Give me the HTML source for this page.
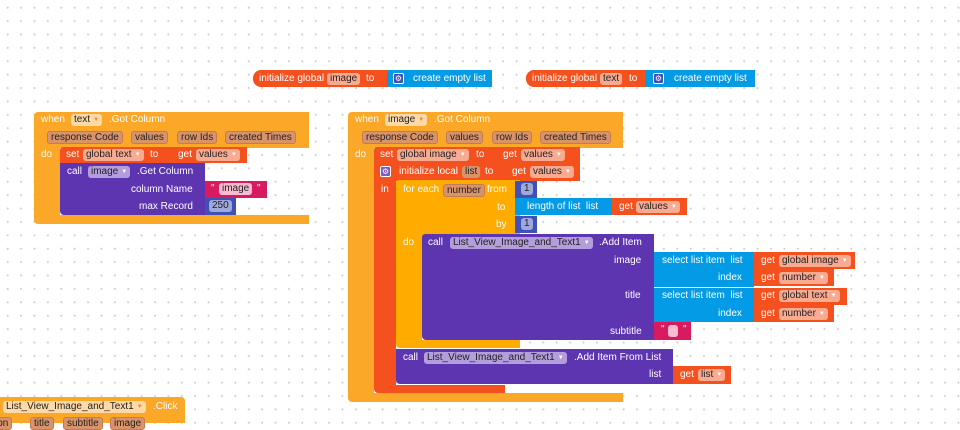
<!DOCTYPE html>
<html><head><meta charset="utf-8"><style>
body{margin:0;width:960px;height:423px;overflow:hidden;background:#fff;
background-image:radial-gradient(circle,#cfcfcf 0.9px,transparent 1.2px);background-size:13.4px 13.4px;background-position:1px 1px;
font-family:"Liberation Sans",sans-serif;font-size:10px;color:#fff;position:relative}
.b{position:absolute}
.t{position:absolute;white-space:nowrap;line-height:14px}
.c{position:absolute;white-space:nowrap;line-height:12px;height:12px;padding:0 3px;border-radius:3px;color:#222;font-size:10px}
.o{background:#fba829}.r{background:#f4511e}.p{background:#5e35b1}.bl{background:#039be5}.pk{background:#d81b60}.nb{background:#3f51b5}.y{background:#ffab00}
.co{background:#fcd9a6}.cp{background:#d9936b;border:1px solid #c47a55;height:11px;line-height:11px}
.cr{background:#f9ab92}.cl{background:#b39ddb}.cn{background:#9fa8da}
.ar{font-size:6px;color:#fff;margin-left:3px;vertical-align:1px}
.ic{position:absolute;width:11px;height:11px;border-radius:2px;background:#3f51b5;border:1px solid #fff;box-sizing:border-box;font-size:8px;line-height:9px;text-align:center}
</style></head><body>

<!-- top init blocks -->
<div class="b r" style="left:253px;top:70px;width:136px;height:17px;border-radius:8px 0 0 8px"></div>
<div class="t" style="left:259px;top:72px">initialize global</div>
<div class="c cr" style="left:327px;top:73px">image</div>
<div class="t" style="left:366px;top:72px">to</div>
<div class="b bl" style="left:387px;top:70px;width:105px;height:17px"></div>
<div class="ic" style="left:393px;top:73px">⚙</div>
<div class="t" style="left:413px;top:72px">create empty list</div>

<div class="b r" style="left:526px;top:70px;width:120px;height:17px;border-radius:8px 0 0 8px"></div>
<div class="t" style="left:532px;top:72px">initialize global</div>
<div class="c cr" style="left:600px;top:73px">text</div>
<div class="t" style="left:629px;top:72px">to</div>
<div class="b bl" style="left:645px;top:70px;width:110px;height:17px"></div>
<div class="ic" style="left:653px;top:73px">⚙</div>
<div class="t" style="left:674px;top:72px">create empty list</div>

<!-- left event -->
<div class="b o" style="left:34px;top:112px;width:275px;height:36px;border-radius:4px 0 0 0"></div>
<div class="b o" style="left:34px;top:147px;width:26px;height:70px"></div>
<div class="b o" style="left:34px;top:215px;width:275px;height:9px;border-radius:0 0 0 4px"></div>
<div class="t" style="left:41px;top:113px">when</div>
<div class="c co" style="left:71px;top:114px">text<span class="ar" style="color:#e08a3a">▼</span></div>
<div class="t" style="left:109px;top:113px">.Got Column</div>
<div class="c cp" style="left:47px;top:131px">response Code</div>
<div class="c cp" style="left:131px;top:131px">values</div>
<div class="c cp" style="left:177px;top:131px">row Ids</div>
<div class="c cp" style="left:225px;top:131px">created Times</div>
<div class="t" style="left:41px;top:148px">do</div>
<div class="b r" style="left:60px;top:147px;width:187px;height:16px;border-radius:3px 0 0 0"></div>
<div class="t" style="left:66px;top:148px">set</div>
<div class="c cr" style="left:83px;top:149px">global text<span class="ar">▼</span></div>
<div class="t" style="left:150px;top:148px">to</div>
<div class="t" style="left:178px;top:148px">get</div>
<div class="c cr" style="left:196px;top:149px">values<span class="ar">▼</span></div>
<div class="b p" style="left:60px;top:163px;width:145px;height:52px;border-radius:0 0 0 4px"></div>
<div class="t" style="left:67px;top:165px">call</div>
<div class="c cl" style="left:88px;top:166px">image<span class="ar">▼</span></div>
<div class="t" style="left:137px;top:165px">.Get Column</div>
<div class="t" style="left:131px;top:183px">column Name</div>
<div class="b pk" style="left:205px;top:181px;width:62px;height:17px"></div>
<div class="t" style="left:211px;top:182px">"</div>
<div class="c cl" style="left:219px;top:183px;background:#f8bbd0">image</div>
<div class="t" style="left:257px;top:182px">"</div>
<div class="t" style="left:139px;top:200px">max Record</div>
<div class="b nb" style="left:205px;top:198px;width:31px;height:17px"></div>
<div class="c cn" style="left:209px;top:200px">250</div>

<!-- right event -->
<div class="b o" style="left:348px;top:112px;width:275px;height:36px;border-radius:4px 0 0 0"></div>
<div class="b o" style="left:348px;top:147px;width:26px;height:250px"></div>
<div class="b o" style="left:348px;top:393px;width:275px;height:9px;border-radius:0 0 0 4px"></div>
<div class="t" style="left:355px;top:113px">when</div>
<div class="c co" style="left:385px;top:114px">image<span class="ar" style="color:#e08a3a">▼</span></div>
<div class="t" style="left:434px;top:113px">.Got Column</div>
<div class="c cp" style="left:362px;top:131px">response Code</div>
<div class="c cp" style="left:446px;top:131px">values</div>
<div class="c cp" style="left:492px;top:131px">row Ids</div>
<div class="c cp" style="left:540px;top:131px">created Times</div>
<div class="t" style="left:355px;top:148px">do</div>

<div class="b r" style="left:374px;top:147px;width:206px;height:16px;border-radius:3px 0 0 0"></div>
<div class="t" style="left:380px;top:148px">set</div>
<div class="c cr" style="left:397px;top:149px">global image<span class="ar">▼</span></div>
<div class="t" style="left:476px;top:148px">to</div>
<div class="t" style="left:503px;top:148px">get</div>
<div class="c cr" style="left:521px;top:149px">values<span class="ar">▼</span></div>

<div class="b r" style="left:374px;top:163px;width:206px;height:18px"></div>
<div class="b r" style="left:374px;top:180px;width:22px;height:208px"></div>
<div class="b r" style="left:374px;top:385px;width:131px;height:8px;border-radius:0 0 0 4px"></div>
<div class="ic" style="left:380px;top:166px;background:#7e57c2">⚙</div>
<div class="t" style="left:399px;top:165px">initialize local</div>
<div class="c cr" style="left:462px;top:166px;background:#d9936b">list</div>
<div class="t" style="left:485px;top:165px">to</div>
<div class="t" style="left:512px;top:165px">get</div>
<div class="c cr" style="left:530px;top:166px">values<span class="ar">▼</span></div>
<div class="t" style="left:381px;top:183px">in</div>

<div class="b y" style="left:396px;top:180px;width:124px;height:55px;border-radius:3px 0 0 0"></div>
<div class="b y" style="left:396px;top:234px;width:26px;height:110px"></div>
<div class="b y" style="left:396px;top:340px;width:124px;height:8px;border-radius:0 0 0 4px"></div>
<div class="t" style="left:403px;top:183px">for each</div>
<div class="c cp" style="left:443px;top:184px">number</div>
<div class="t" style="left:487px;top:183px">from</div>
<div class="b nb" style="left:515px;top:181px;width:22px;height:17px"></div>
<div class="c cn" style="left:521px;top:183px;padding:0 3px">1</div>
<div class="t" style="left:497px;top:201px">to</div>
<div class="b bl" style="left:515px;top:198px;width:97px;height:17px"></div>
<div class="t" style="left:527px;top:200px">length of list &nbsp;list</div>
<div class="b r" style="left:612px;top:198px;width:75px;height:17px"></div>
<div class="t" style="left:619px;top:200px">get</div>
<div class="c cr" style="left:636px;top:201px">values<span class="ar">▼</span></div>
<div class="t" style="left:496px;top:218px">by</div>
<div class="b nb" style="left:515px;top:216px;width:22px;height:17px"></div>
<div class="c cn" style="left:521px;top:218px;padding:0 3px">1</div>
<div class="t" style="left:403px;top:236px">do</div>

<div class="b p" style="left:422px;top:234px;width:232px;height:106px;border-radius:3px 0 0 4px"></div>
<div class="t" style="left:428px;top:236px">call</div>
<div class="c cl" style="left:450px;top:237px">List_View_Image_and_Text1<span class="ar">▼</span></div>
<div class="t" style="left:599px;top:236px">.Add Item</div>
<div class="t" style="left:614px;top:254px">image</div>
<div class="t" style="left:625px;top:289px">title</div>
<div class="t" style="left:610px;top:325px">subtitle</div>

<div class="b bl" style="left:654px;top:252px;width:100px;height:35px"></div>
<div class="b bl" style="left:654px;top:288px;width:100px;height:34px"></div>
<div class="t" style="left:662px;top:254px">select list item &nbsp;list</div>
<div class="t" style="left:718px;top:271px">index</div>
<div class="t" style="left:662px;top:289px">select list item &nbsp;list</div>
<div class="t" style="left:718px;top:307px">index</div>
<div class="b r" style="left:754px;top:252px;width:101px;height:17px"></div>
<div class="t" style="left:761px;top:254px">get</div>
<div class="c cr" style="left:779px;top:255px">global image<span class="ar">▼</span></div>
<div class="b r" style="left:754px;top:269px;width:80px;height:17px"></div>
<div class="t" style="left:761px;top:271px">get</div>
<div class="c cr" style="left:779px;top:272px">number<span class="ar">▼</span></div>
<div class="b r" style="left:754px;top:288px;width:93px;height:17px"></div>
<div class="t" style="left:761px;top:289px">get</div>
<div class="c cr" style="left:779px;top:290px">global text<span class="ar">▼</span></div>
<div class="b r" style="left:754px;top:305px;width:80px;height:17px"></div>
<div class="t" style="left:761px;top:307px">get</div>
<div class="c cr" style="left:779px;top:308px">number<span class="ar">▼</span></div>
<div class="b pk" style="left:654px;top:322px;width:37px;height:18px"></div>
<div class="t" style="left:661px;top:323px">"</div>
<div class="b" style="left:668px;top:325px;width:10px;height:12px;border-radius:3px;background:#f8bbd0"></div>
<div class="t" style="left:683px;top:323px">"</div>

<div class="b p" style="left:396px;top:349px;width:277px;height:35px;border-radius:0 0 0 4px"></div>
<div class="t" style="left:403px;top:351px">call</div>
<div class="c cl" style="left:424px;top:352px">List_View_Image_and_Text1<span class="ar">▼</span></div>
<div class="t" style="left:574px;top:351px">.Add Item From List</div>
<div class="t" style="left:649px;top:368px">list</div>
<div class="b r" style="left:673px;top:366px;width:58px;height:18px"></div>
<div class="t" style="left:680px;top:368px">get</div>
<div class="c cr" style="left:698px;top:369px">list<span class="ar">▼</span></div>

<!-- bottom-left -->
<div class="b o" style="left:0px;top:397px;width:185px;height:26px;border-radius:0 4px 0 0"></div>
<div class="c co" style="left:3px;top:401px">List_View_Image_and_Text1<span class="ar" style="color:#e08a3a">▼</span></div>
<div class="t" style="left:153px;top:400px">.Click</div>
<div class="c cp" style="left:-14px;top:417px">ition</div>
<div class="c cp" style="left:30px;top:417px">title</div>
<div class="c cp" style="left:63px;top:417px">subtitle</div>
<div class="c cp" style="left:110px;top:417px">image</div>
</body></html>
